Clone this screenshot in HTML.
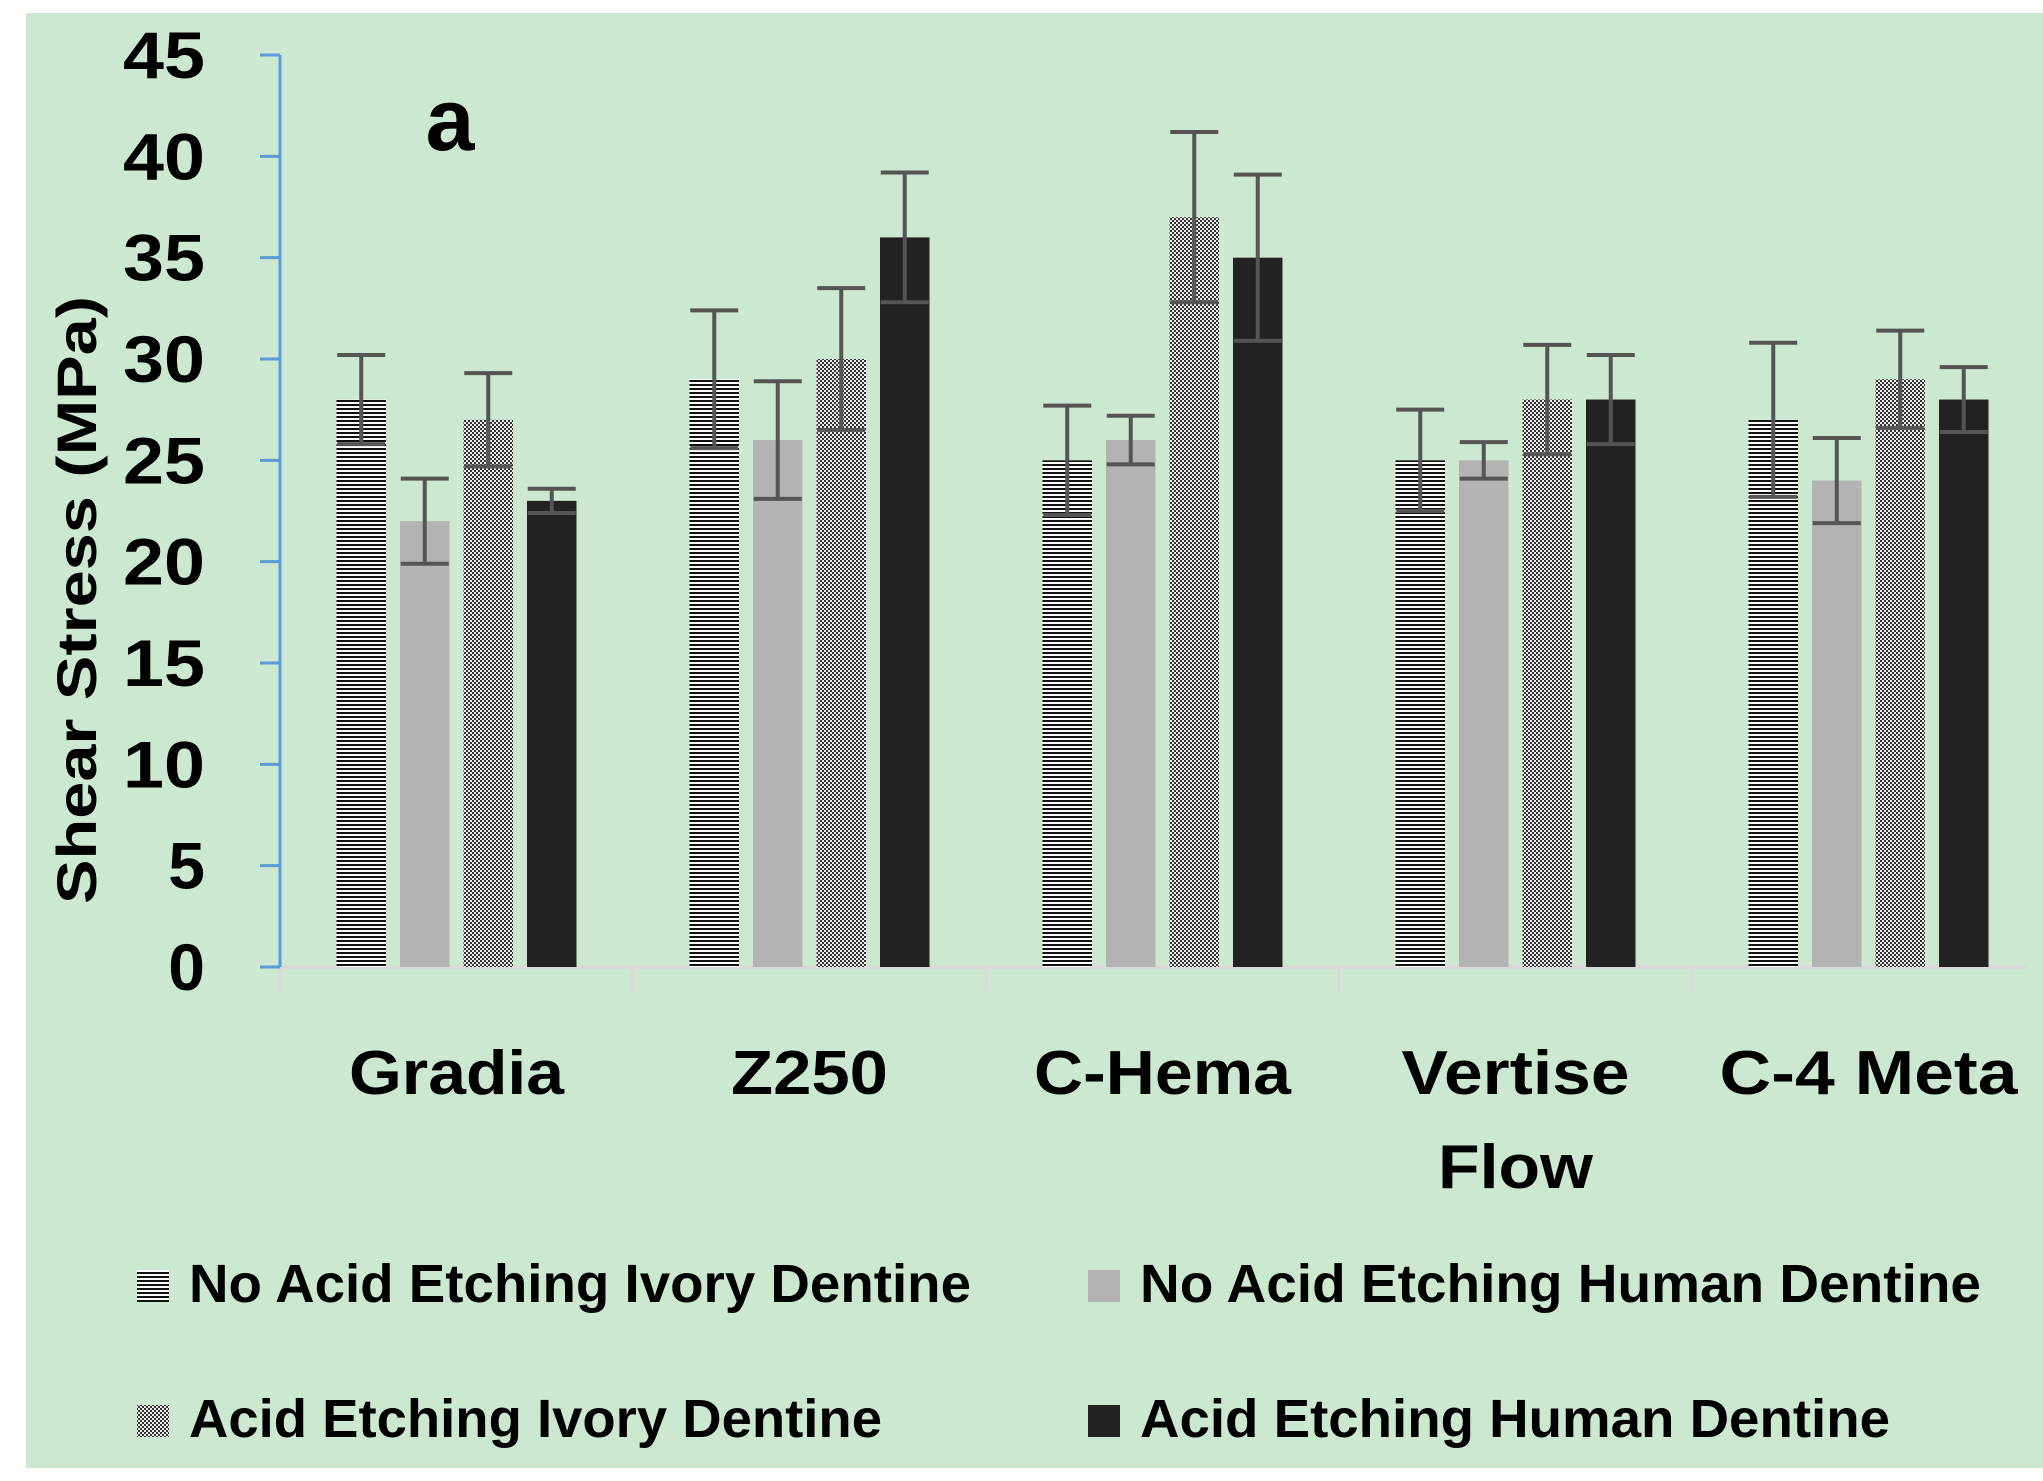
<!DOCTYPE html>
<html><head><meta charset="utf-8"><style>
html,body{margin:0;padding:0;background:#fff;}
svg{display:block;}
text{font-family:"Liberation Sans",sans-serif;font-weight:bold;fill:#000;}
</style></head><body>
<svg id="chart" width="2043" height="1481" viewBox="0 0 2043 1481" xmlns="http://www.w3.org/2000/svg">
<defs>
<pattern id="pHoriz" width="4" height="4" patternUnits="userSpaceOnUse"><rect width="4" height="4" fill="#fff"/><rect width="4" height="2" fill="#111"/></pattern>
<pattern id="pCheck" width="4" height="4" patternUnits="userSpaceOnUse"><rect width="4" height="4" fill="#eee"/><rect width="2" height="2" fill="#333"/><rect x="2" y="2" width="2" height="2" fill="#333"/></pattern>
</defs>
<rect x="26" y="13" width="2017" height="1455" fill="#cde8d1"/>
<g id="yaxis"></g>
<g id="bars"></g>
<text x="450" y="150" font-size="88" text-anchor="middle">a</text>
<text transform="translate(96,600) rotate(-90)" font-size="56" text-anchor="middle" textLength="608" lengthAdjust="spacingAndGlyphs">Shear Stress (MPa)</text>
<g id="legend"></g>
</svg>
<script>
const categories = ["Gradia","Z250","C-Hema","Vertise|Flow","C-4 Meta"];
const seriesNames = ["No Acid Etching Ivory Dentine","No Acid Etching Human Dentine","Acid Etching Ivory Dentine","Acid Etching Human Dentine"];
const noAcidIvory = [28,29,25,25,27];
const noAcidHuman = [22,26,26,25,24];
const acidIvory = [27,30,37,28,29];
const acidHuman = [23,36,35,28,28];
const errNoAcidIvory = [2.2,3.4,2.7,2.5,3.8];
const errNoAcidHuman = [2.1,2.9,1.2,0.9,2.1];
const errAcidIvory = [2.3,3.5,4.2,2.7,2.4];
const errAcidHuman = [0.6,3.2,4.1,2.2,1.6];
const yTicks = [0,5,10,15,20,25,30,35,40,45];

const NS="http://www.w3.org/2000/svg";
const fills=["url(#pHoriz)","#b3b3b3","url(#pCheck)","#222"];
const series=[noAcidIvory,noAcidHuman,acidIvory,acidHuman];
const errs=[errNoAcidIvory,errNoAcidHuman,errAcidIvory,errAcidHuman];
const x0=280,x1=2026,catW=353,y0=967,yTop=55,yMax=45;
function y(v){return y0-(v/yMax)*(y0-yTop);}
function mk(tag,attrs,parent){const e=document.createElementNS(NS,tag);for(const k in attrs)e.setAttribute(k,attrs[k]);parent.appendChild(e);return e;}
const ya=document.getElementById('yaxis');
const gb=document.getElementById('bars');
const lg=document.getElementById('legend');
let xl=mk('line',{x1:x0,x2:x1,y1:y0,y2:y0,stroke:'#d9d9d9','stroke-width':4},ya);


for(let i=0;i<=categories.length;i++){
  const t=mk('line',{x1:x0+i*catW,x2:x0+i*catW,y1:y0,y2:y0+24,stroke:'#d9d9d9','stroke-width':4},ya);
  
  
}
let yl=mk('line',{x1:x0,x2:x0,y1:yTop,y2:y0,stroke:'#5b9bd5','stroke-width':3},ya);


yTicks.forEach(v=>{
  const tk=mk('line',{x1:x0-20,x2:x0,y1:y(v),y2:y(v),stroke:'#5b9bd5','stroke-width':3},ya);
  
  
  const attrs={x:205,y:y(v)+23,'font-size':66,'text-anchor':'end'};
  if(String(v).length===2){attrs.textLength=82;attrs.lengthAdjust='spacingAndGlyphs';}
  const tx=mk('text',attrs,ya);
  tx.textContent=v;
  
  
});
const catLabelW=[[215],[157],[257],[228,155],[298]];
const bw=49.5,gap=14;
categories.forEach((c,ci)=>{
  const cx=x0+ci*catW+catW/2;
  const start=cx-(4*bw+3*gap)/2;
  series.forEach((s,si)=>{
    const bx=start+si*(bw+gap);
    const r=mk('rect',{x:bx,y:y(s[ci]),width:bw,height:y0-y(s[ci]),fill:fills[si]},gb);
    
    
    const e=errs[si][ci],mx=bx+bw/2;
    const eg=mk('g',{stroke:'#555','stroke-width':4},gb);
    
    
    mk('line',{x1:mx,x2:mx,y1:y(s[ci]+e),y2:y(s[ci]-e)},eg);
    mk('line',{x1:mx-24,x2:mx+24,y1:y(s[ci]+e),y2:y(s[ci]+e)},eg);
    mk('line',{x1:mx-24,x2:mx+24,y1:y(s[ci]-e),y2:y(s[ci]-e)},eg);
  });
  c.split('|').forEach((ln,li)=>{
    const t=mk('text',{x:cx,y:1094+li*94,'font-size':62,'text-anchor':'middle',textLength:catLabelW[ci][li],lengthAdjust:'spacingAndGlyphs'},gb);
    t.textContent=ln;
    
    
  });
});
const legPos=[[137,1270],[1088,1270],[137,1405],[1088,1405]];
const legW=[782,841,693,750];
seriesNames.forEach((n,i)=>{
  const g=mk('g',{},lg);
  
  
  mk('rect',{x:legPos[i][0],y:legPos[i][1],width:32,height:32,fill:fills[i]},g);
  const t=mk('text',{x:legPos[i][0]+52,y:legPos[i][1]+32,'font-size':54,textLength:legW[i],lengthAdjust:'spacingAndGlyphs'},g);
  t.textContent=n;
});
</script>
</body></html>
